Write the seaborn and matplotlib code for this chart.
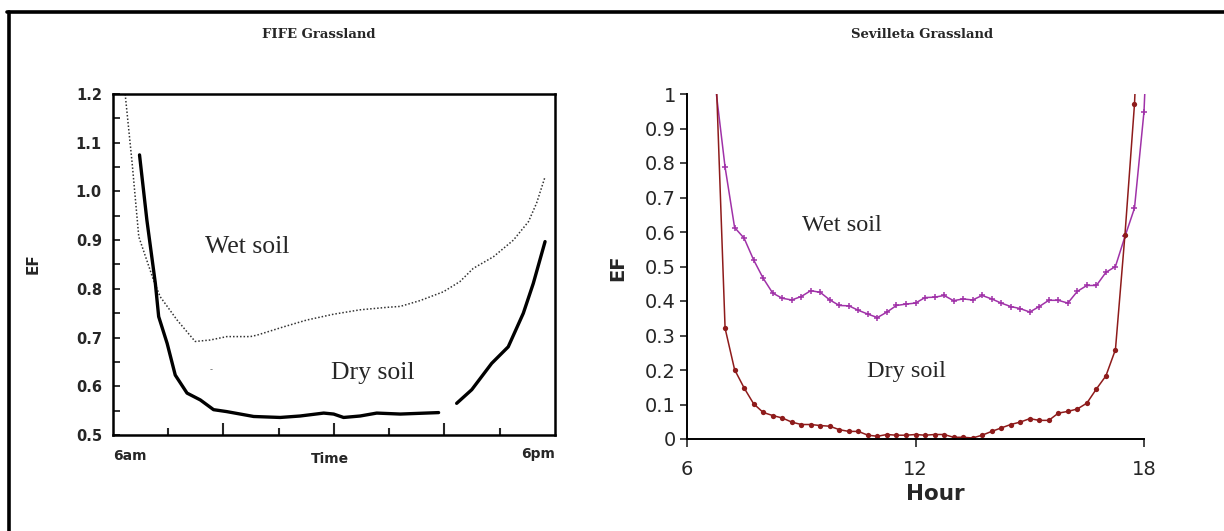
import numpy as np
import pandas as pd
import matplotlib.pyplot as plt
import seaborn as sns
from matplotlib.lines import Line2D
from matplotlib.ticker import MultipleLocator, FormatStrFormatter

# ------------------------------------------------------------
# Data
# ------------------------------------------------------------

# FIFE grassland (hours of day)
fife_wet_hour = [6.33, 6.52, 6.70, 7.10, 7.28, 7.74, 8.23, 8.64, 9.09, 9.73, 9.91,
                 10.63, 11.26, 11.99, 12.71, 13.43, 13.80, 14.34, 14.97, 15.42,
                 15.78, 16.33, 16.87, 17.28, 17.50, 17.73]
fife_wet_ef = [1.2, 1.058, 0.907, 0.818, 0.784, 0.736, 0.692, 0.695, 0.702, 0.702, 0.705,
               0.722, 0.736, 0.748, 0.757, 0.762, 0.764, 0.776, 0.794, 0.815,
               0.842, 0.866, 0.900, 0.938, 0.976, 1.030]

fife_dry_hour = [6.72, 6.92, 7.15, 7.24, 7.47, 7.69, 8.01, 8.37, 8.73, 9.09, 9.82,
                 10.54, 11.08, 11.72, 11.99, 12.26, 12.71, 13.16, 13.80, 14.84,
                 15.33, 15.74, 16.28, 16.73, 17.14, 17.41, 17.73]
fife_dry_ef = [1.075, 0.941, 0.811, 0.743, 0.688, 0.623, 0.586, 0.572, 0.552, 0.548, 0.538,
               0.536, 0.539, 0.545, 0.543, 0.536, 0.539, 0.545, 0.543, 0.546,
               0.565, 0.593, 0.647, 0.681, 0.750, 0.811, 0.897]
fife_dry_seg = [0, 0, 0, 0, 0, 0, 0, 0, 0, 0, 0, 0, 0, 0, 0, 0, 0, 0, 0, 0,
                1, 1, 1, 1, 1, 1, 1]

# Sevilleta grassland
sev_wet_hour = [6.75, 7.0, 7.25, 7.5, 7.75, 8.0, 8.25, 8.5, 8.75, 9.0, 9.25, 9.5, 9.75,
                10.0, 10.25, 10.5, 10.75, 11.0, 11.25, 11.5, 11.75, 12.0, 12.25, 12.5,
                12.75, 13.0, 13.25, 13.5, 13.75, 14.0, 14.25, 14.5, 14.75, 15.0, 15.25,
                15.5, 15.75, 16.0, 16.25, 16.5, 16.75, 17.0, 17.25, 17.5, 17.75, 18.0, 18.25]
sev_wet_ef = [1.02, 0.788, 0.613, 0.582, 0.519, 0.466, 0.423, 0.408, 0.403, 0.413, 0.430,
              0.425, 0.403, 0.387, 0.386, 0.373, 0.362, 0.352, 0.368, 0.387, 0.391,
              0.394, 0.410, 0.411, 0.416, 0.401, 0.406, 0.403, 0.416, 0.406, 0.394,
              0.384, 0.378, 0.368, 0.384, 0.402, 0.402, 0.394, 0.428, 0.445, 0.445,
              0.483, 0.500, 0.587, 0.669, 0.949, 1.6]

sev_dry_hour = [6.75, 7.0, 7.25, 7.5, 7.75, 8.0, 8.25, 8.5, 8.75, 9.0, 9.25, 9.5, 9.75,
                10.0, 10.25, 10.5, 10.75, 11.0, 11.25, 11.5, 11.75, 12.0, 12.25, 12.5,
                12.75, 13.0, 13.25, 13.5, 13.75, 14.0, 14.25, 14.5, 14.75, 15.0, 15.25,
                15.5, 15.75, 16.0, 16.25, 16.5, 16.75, 17.0, 17.25, 17.5, 17.75, 18.0]
sev_dry_ef = [1.1, 0.321, 0.201, 0.148, 0.102, 0.077, 0.068, 0.061, 0.049, 0.042, 0.042,
              0.039, 0.037, 0.027, 0.022, 0.022, 0.011, 0.008, 0.013, 0.011, 0.011,
              0.013, 0.011, 0.013, 0.013, 0.005, 0.005, 0.003, 0.011, 0.022, 0.032,
              0.042, 0.049, 0.059, 0.054, 0.054, 0.075, 0.080, 0.087, 0.104, 0.145,
              0.183, 0.259, 0.592, 0.970, 1.6]

fife_dry = pd.DataFrame({'hour': fife_dry_hour, 'EF': fife_dry_ef, 'seg': fife_dry_seg})

wet_purple = '#A032A8'
dry_red = '#8E1B1B'

# ------------------------------------------------------------
# Figure
# ------------------------------------------------------------
sns.set_style('white')
plt.rcParams['font.family'] = ['DejaVu Sans']

W, H = 1224, 531
fig = plt.figure(figsize=(W / 100, H / 100), dpi=100)

# frame lines (top and left only)
fig.add_artist(Line2D([7 / W, 1], [1 - 12 / H, 1 - 12 / H], transform=fig.transFigure,
                      color='black', lw=2.6))
fig.add_artist(Line2D([8.5 / W, 8.5 / W], [0, 1 - 12 / H], transform=fig.transFigure,
                      color='black', lw=2.6))

# ---------------- FIFE panel ----------------
ax1 = fig.add_axes([113 / W, 1 - 435 / H, 442 / W, 341 / H])
sns.lineplot(x=fife_wet_hour, y=fife_wet_ef, ax=ax1, color='#333333', lw=1.1,
             linestyle=(0, (1, 1.3)), sort=False, estimator=None)
sns.lineplot(data=fife_dry, x='hour', y='EF', units='seg', estimator=None, sort=False,
             ax=ax1, color='black', lw=2.4)
ax1.set_xlim(6, 18)
ax1.set_ylim(0.5, 1.2)
for s in ax1.spines.values():
    s.set_visible(True)
    s.set_color('black')
    s.set_linewidth(1.8)
ax1.set_xticks([9, 12, 15])
ax1.set_xticks([7.5, 10.5, 13.5, 16.5], minor=True)
ax1.tick_params(axis='x', which='major', direction='in', length=9, width=1.5,
                labelbottom=False, bottom=True)
ax1.tick_params(axis='x', which='minor', direction='in', length=5, width=1.5, bottom=True)
ax1.yaxis.set_major_locator(MultipleLocator(0.1))
ax1.yaxis.set_minor_locator(MultipleLocator(0.05))
ax1.yaxis.set_major_formatter(FormatStrFormatter('%.1f'))
ax1.tick_params(axis='y', which='both', direction='in', length=5, width=1.3, left=True,
                pad=8, labelsize=10.5)
for lab in ax1.get_yticklabels():
    lab.set_fontweight('bold')
ax1.set_xlabel('')
ax1.set_ylabel('')
ax1.text(0, -0.04, '6am', transform=ax1.transAxes, ha='left', va='top',
         fontsize=10, fontweight='bold')
ax1.text(1, -0.035, '6pm', transform=ax1.transAxes, ha='right', va='top',
         fontsize=10, fontweight='bold')
ax1.text(0.49, -0.05, 'Time', transform=ax1.transAxes, ha='center', va='top',
         fontsize=10, fontweight='bold')
fig.text(33 / W, 1 - 264 / H, 'EF', rotation=90, ha='center', va='center',
         fontsize=11, fontweight='bold')
ax1.text(9.65, 0.885, 'Wet soil', family='Liberation Serif', fontsize=18.5, ha='center', va='center')
ax1.text(13.05, 0.627, 'Dry soil', family='Liberation Serif', fontsize=18.5, ha='center', va='center')
ax1.text(8.65, 0.635, '-', fontsize=6, color='#666666', ha='center', va='center')
fig.text(319 / W, 1 - 34 / H, 'FIFE Grassland', family='DejaVu Serif', fontweight='bold',
         fontsize=9.5, ha='center', va='center')

# ---------------- Sevilleta panel ----------------
ax2 = fig.add_axes([687 / W, 1 - 439 / H, 457 / W * 12.1 / 12, 345 / H])
sns.lineplot(x=sev_wet_hour, y=sev_wet_ef, ax=ax2, color=wet_purple, lw=1.1,
             marker='+', markersize=5, markeredgewidth=1.1, markeredgecolor=wet_purple,
             sort=False, estimator=None)
sns.lineplot(x=sev_dry_hour, y=sev_dry_ef, ax=ax2, color=dry_red, lw=1.1,
             marker='o', markersize=3.8, markeredgewidth=0, markerfacecolor=dry_red,
             sort=False, estimator=None)
ax2.set_xlim(6, 18.1)
ax2.set_ylim(0, 1)
sns.despine(ax=ax2)
ax2.spines['left'].set_color('black')
ax2.spines['bottom'].set_color('black')
ax2.spines['left'].set_linewidth(1.4)
ax2.spines['bottom'].set_linewidth(1.4)
ax2.spines['bottom'].set_bounds(6, 18)
ax2.set_xticks([6, 12, 18])
ax2.set_xticklabels(['6', '12', '18'])
ax2.set_yticks([0, 0.1, 0.2, 0.3, 0.4, 0.5, 0.6, 0.7, 0.8, 0.9, 1])
ax2.set_yticklabels(['0', '0.1', '0.2', '0.3', '0.4', '0.5', '0.6', '0.7', '0.8', '0.9', '1'])
ax2.tick_params(axis='y', direction='out', length=5, width=1.2, labelsize=14,
                left=True, pad=3)
ax2.tick_params(axis='x', direction='out', length=6, width=1.2, labelsize=14,
                bottom=True, pad=9)
ax2.set_xlabel('Hour', fontsize=15.5, fontweight='bold')
ax2.xaxis.set_label_coords((935 - 687) / (457 * 12.1 / 12), -(484 - 439) / 345)
ax2.set_ylabel('')
fig.text(618 / W, 1 - 268 / H, 'EF', rotation=90, ha='center', va='center',
         fontsize=14, fontweight='bold')
ax2.text(10.07, 0.62, 'Wet soil', family='Liberation Serif', fontsize=17.5, ha='center', va='center')
ax2.text(11.77, 0.195, 'Dry soil', family='Liberation Serif', fontsize=17.5, ha='center', va='center')
fig.text(922 / W, 1 - 34 / H, 'Sevilleta Grassland', family='DejaVu Serif', fontweight='bold',
         fontsize=9.5, ha='center', va='center')

fig.savefig('out.png', dpi=100)
